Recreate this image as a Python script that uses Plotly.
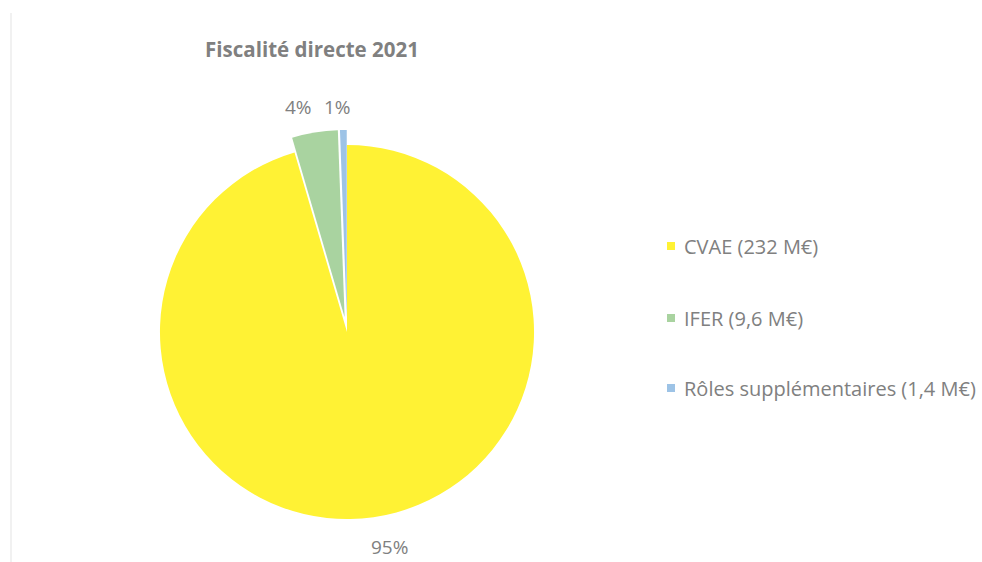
import plotly.graph_objects as go

# Direct taxation 2021, amounts in millions of euros
labels = ["CVAE (232 M€)", "IFER (9,6 M€)", "Rôles supplémentaires (1,4 M€)"]
values = [232, 9.6, 1.4]
colors = ["#FFF234", "#A9D3A0", "#9DC3E6"]
pulls = [0, 0.08, 0.08]

W, H = 982, 562
TEXT_GREY = "#808080"
FONT = "Open Sans"

fig = go.Figure()
fig.add_trace(go.Pie(
    labels=labels,
    values=values,
    sort=False,
    direction="clockwise",
    rotation=0,
    pull=pulls,
    marker=dict(colors=colors, line=dict(width=0)),
    textinfo="none",
    showlegend=False,
    domain=dict(x=[145 / W, 549 / W], y=[(H - 534) / H, (H - 130) / H]),
    hoverinfo="label+percent",
))

# Percentage labels outside the slices, computed from the values
total = sum(values)
pct_text = [f"{round(100 * v / total):d}%" for v in values]
pct_pos = [(389, 547), (298, 107), (337, 107)]
annotations = []
for txt, (px, py) in zip(pct_text, pct_pos):
    annotations.append(dict(
        text=txt, xref="paper", yref="paper",
        x=px / W, y=1 - py / H, xanchor="center", yanchor="middle",
        showarrow=False, font=dict(family=FONT, size=19, color=TEXT_GREY),
    ))

# Legend drawn as small squares with labels, evenly spaced on the right
legend_y = [246, 318, 388]
shapes = []
for lab, col, py in zip(labels, colors, legend_y):
    shapes.append(dict(
        type="rect", xref="paper", yref="paper",
        x0=667 / W, x1=675 / W, y0=1 - (py + 4) / H, y1=1 - (py - 4) / H,
        fillcolor=col, line=dict(width=0),
    ))
    annotations.append(dict(
        text=lab, xref="paper", yref="paper",
        x=682 / W, y=1 - py / H, xanchor="left", yanchor="middle",
        showarrow=False, font=dict(family=FONT, size=20, color=TEXT_GREY),
    ))

# faint chart-area border on the left
shapes.append(dict(
    type="line", xref="paper", yref="paper",
    x0=11 / W, x1=11 / W, y0=0, y1=1 - 13 / H,
    line=dict(color="#EDEDED", width=1.5),
))

fig.update_layout(
    width=W, height=H,
    margin=dict(l=0, r=0, t=0, b=0),
    paper_bgcolor="white",
    plot_bgcolor="white",
    title=dict(
        text="<b>Fiscalité directe 2021</b>",
        x=312 / W, xanchor="center",
        y=1 - 50 / H, yanchor="middle",
        font=dict(family=FONT, size=20.5, color=TEXT_GREY),
    ),
    shapes=shapes,
    annotations=annotations,
)

fig.write_html("out.html")
